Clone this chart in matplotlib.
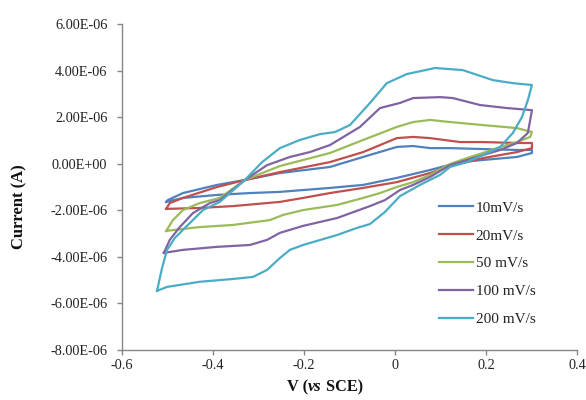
import matplotlib
matplotlib.use("Agg")
import matplotlib.pyplot as plt
from matplotlib.ticker import FuncFormatter, MultipleLocator
from matplotlib.offsetbox import TextArea, HPacker, AnnotationBbox
import numpy as np

# Cyclic voltammograms: potential (V vs SCE) and current (uA),
# anodic sweep (forward) and cathodic sweep (reverse) for each scan rate.
labels = ["10mV/s", "20mV/s", "50 mV/s", "100 mV/s", "200 mV/s"]
colors = ["#4F81BD", "#C0504D", "#9BBB59", "#8064A2", "#4BACC6"]

v10_fwd = [-0.503, -0.499, -0.466, -0.391, -0.330, -0.253, -0.143, -0.070, 0.004, 0.040, 0.077, 0.121, 0.193, 0.268, 0.301]
i10_fwd = [-1.64, -1.56, -1.26, -0.91, -0.70, -0.40, -0.14, 0.29, 0.72, 0.76, 0.67, 0.67, 0.63, 0.59, 0.59]
v10_rev = [0.301, 0.268, 0.193, 0.143, 0.077, 0.004, -0.070, -0.143, -0.202, -0.253, -0.319, -0.391, -0.466, -0.503]
i10_rev = [0.46, 0.29, 0.16, 0.07, -0.27, -0.61, -0.91, -1.04, -1.13, -1.21, -1.26, -1.34, -1.47, -1.64]

v20_fwd = [-0.503, -0.495, -0.466, -0.391, -0.330, -0.253, -0.143, -0.070, 0.004, 0.040, 0.077, 0.143, 0.193, 0.268, 0.301]
i20_fwd = [-1.94, -1.69, -1.47, -1.00, -0.70, -0.36, 0.07, 0.50, 1.10, 1.15, 1.10, 0.93, 0.93, 0.89, 0.89]
v20_rev = [0.301, 0.268, 0.231, 0.193, 0.158, 0.121, 0.077, 0.004, -0.070, -0.143, -0.202, -0.253, -0.356, -0.429, -0.503]
i20_rev = [0.67, 0.50, 0.37, 0.24, 0.07, -0.10, -0.40, -0.79, -1.04, -1.26, -1.47, -1.64, -1.82, -1.90, -1.94]

v50_fwd = [-0.503, -0.488, -0.466, -0.429, -0.385, -0.330, -0.253, -0.143, -0.070, 0.004, 0.040, 0.077, 0.121, 0.193, 0.268, 0.301]
i50_fwd = [-2.89, -2.42, -1.99, -1.69, -1.47, -0.70, -0.10, 0.46, 1.02, 1.58, 1.79, 1.88, 1.79, 1.66, 1.53, 1.36]
v50_rev = [0.301, 0.297, 0.268, 0.231, 0.193, 0.158, 0.121, 0.077, 0.040, 0.004, -0.033, -0.070, -0.127, -0.202, -0.246, -0.275, -0.356, -0.429, -0.488, -0.503]
i50_rev = [1.36, 1.15, 0.93, 0.72, 0.46, 0.24, -0.01, -0.48, -0.79, -1.00, -1.26, -1.47, -1.77, -1.99, -2.20, -2.42, -2.63, -2.72, -2.85, -2.89]

v100_fwd = [-0.508, -0.495, -0.473, -0.444, -0.407, -0.385, -0.330, -0.281, -0.231, -0.187, -0.143, -0.077, -0.033, 0.011, 0.040, 0.099, 0.127, 0.187, 0.246, 0.301]
i100_fwd = [-3.83, -3.27, -2.72, -2.12, -1.69, -1.56, -0.70, -0.06, 0.29, 0.50, 0.80, 1.58, 2.39, 2.61, 2.82, 2.86, 2.82, 2.52, 2.39, 2.30]
v100_rev = [0.301, 0.292, 0.268, 0.231, 0.193, 0.158, 0.121, 0.077, 0.040, 0.011, -0.022, -0.055, -0.127, -0.202, -0.253, -0.281, -0.319, -0.391, -0.466, -0.508]
i100_rev = [2.30, 1.32, 0.89, 0.59, 0.37, 0.16, -0.06, -0.57, -0.91, -1.13, -1.56, -1.82, -2.33, -2.67, -2.97, -3.27, -3.49, -3.57, -3.70, -3.83]

v200_fwd = [-0.523, -0.512, -0.501, -0.484, -0.451, -0.422, -0.385, -0.330, -0.292, -0.253, -0.209, -0.165, -0.132, -0.099, -0.055, -0.018, 0.026, 0.088, 0.149, 0.215, 0.259, 0.301]
i200_fwd = [-5.46, -4.48, -3.70, -3.19, -2.55, -1.99, -1.64, -0.70, 0.07, 0.67, 1.02, 1.27, 1.36, 1.66, 2.61, 3.46, 3.85, 4.11, 4.02, 3.59, 3.46, 3.38]
v200_rev = [0.301, 0.292, 0.279, 0.259, 0.231, 0.193, 0.158, 0.121, 0.099, 0.055, 0.011, -0.022, -0.055, -0.084, -0.127, -0.202, -0.231, -0.253, -0.281, -0.312, -0.356, -0.429, -0.501, -0.523]
i200_rev = [3.38, 2.73, 2.00, 1.32, 0.72, 0.37, 0.07, -0.14, -0.48, -0.91, -1.39, -2.07, -2.59, -2.76, -3.06, -3.49, -3.70, -4.05, -4.56, -4.86, -4.95, -5.07, -5.29, -5.46]

sweeps = [
    (v10_fwd, i10_fwd, v10_rev, i10_rev),
    (v20_fwd, i20_fwd, v20_rev, i20_rev),
    (v50_fwd, i50_fwd, v50_rev, i50_rev),
    (v100_fwd, i100_fwd, v100_rev, i100_rev),
    (v200_fwd, i200_fwd, v200_rev, i200_rev),
]

serif = "Liberation Serif"
plt.rcParams["font.family"] = serif

fig = plt.figure(figsize=(5.86, 4.00), dpi=100)
ax = fig.add_axes([122 / 586, 1 - 350 / 400, 455 / 586, 326 / 400])

for (vf, jf, vr, jr), lab, col in zip(sweeps, labels, colors):
    v = np.concatenate([vf, vr])
    cur = np.concatenate([jf, jr]) * 1e-6
    ax.plot(v, cur, color=col, lw=1.6, label=lab, solid_joinstyle="round")

ax.set_xlim(-0.6, 0.4)
ax.set_ylim(-8e-6, 6e-6)
ax.xaxis.set_major_locator(MultipleLocator(0.2))
ax.yaxis.set_major_locator(MultipleLocator(2e-6))
ax.xaxis.set_major_formatter(FuncFormatter(lambda x, p: "0" if abs(x) < 1e-9 else "{:g}".format(round(x, 1))))
ax.yaxis.set_major_formatter(FuncFormatter(lambda y, p: "{:.2E}".format(0.0 if abs(y) < 1e-12 else y)))

for s in ("top", "right"):
    ax.spines[s].set_visible(False)
for s in ("left", "bottom"):
    ax.spines[s].set_color("#868686")
    ax.spines[s].set_linewidth(1.0)
ax.tick_params(axis="both", direction="out", length=3.6, width=1.0, color="#868686",
               labelsize=10.3, labelcolor="#222222")
ax.tick_params(axis="y", pad=7)
ax.tick_params(axis="x", pad=3)

ax.set_ylabel("Current (A)", fontsize=12, fontweight="bold", color="#111111")
ax.yaxis.set_label_coords(-(122 - 27) / 455, (350 - 207) / 326)

# x-axis title with italic "vs"
title_props = dict(fontsize=11.7, fontweight="bold", color="#111111", family=serif)
parts = [
    TextArea("V (", textprops=title_props),
    TextArea("vs", textprops=dict(title_props, fontstyle="italic")),
    TextArea(" SCE)", textprops=title_props),
]
pack = HPacker(children=parts, align="baseline", pad=0, sep=0)
ab = AnnotationBbox(pack, (325 / 586, 1 - 387 / 400), xycoords="figure fraction",
                    frameon=False, box_alignment=(0.5, 0.5))
fig.add_artist(ab)

leg = ax.legend(loc="upper left", bbox_to_anchor=(439 / 586, 1 - 201 / 400),
                bbox_transform=fig.transFigure, frameon=False, fontsize=11,
                handlelength=2.2, handletextpad=0.2, labelspacing=0.93,
                borderpad=0, borderaxespad=0)
for t in leg.get_texts():
    t.set_color("#222222")

fig.savefig("out.png", dpi=100)
